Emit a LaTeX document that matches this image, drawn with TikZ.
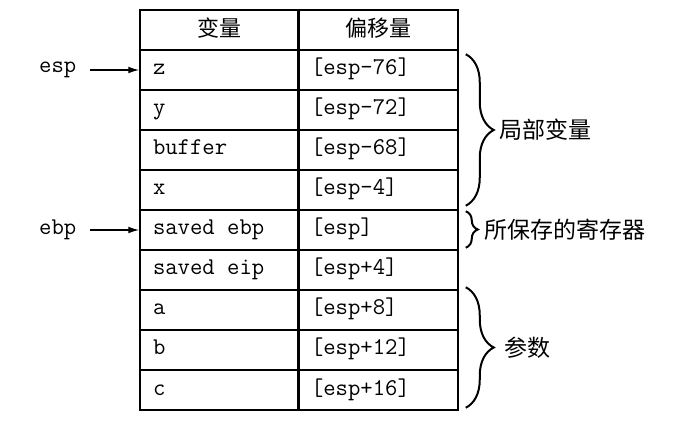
\documentclass[tikz,border=0pt]{standalone}
\usepackage{fontspec}
\newfontfamily\cjk{Noto Sans CJK SC}
\usetikzlibrary{positioning,decorations.pathreplacing,arrows.meta}

\begin{document}
\begin{tikzpicture}[on grid,
   cell/.style={draw, line width=0.75pt, minimum height=20pt, inner xsep=6.5pt,
                text height=7pt, text depth=2pt, align=flush left,
                font=\ttfamily\fontsize{12}{13}\selectfont},
   varcell/.style={cell, text width=66pt},
   offcell/.style={cell, text width=67pt},
   headcell/.style={cell, align=center, text height=8.5pt, text depth=2pt,
                    font=\cjk\fontsize{11}{13}\selectfont},
   reg/.style={font=\ttfamily\fontsize{12}{13}\selectfont},
   pointer/.style={-{Latex[length=5.5pt,width=3.4pt]}, line width=0.7pt, shorten <=3.5pt},
   curly/.style={decorate, decoration={brace, amplitude=#1}, line width=1pt},
   lab/.style={anchor=west, inner sep=0pt, font=\cjk\fontsize{11.5}{13}\selectfont}]
   \useasboundingbox (0,0) rectangle (336.5pt,-210.5pt);

   \node[headcell, text width=66pt] (v0) at (109.5pt,-15pt) {变量};
   \node[headcell, text width=67pt] (o0) [right=79.5pt of v0] {偏移量};

   \foreach \var/\off [count=\i] in {z/{[esp-76]}, y/{[esp-72]}, buffer/{[esp-68]},
         x/{[esp-4]}, saved ebp/{[esp]}, saved eip/{[esp+4]},
         a/{[esp+8]}, b/{[esp+12]}, c/{[esp+16]}} {
      \node[varcell] (v\i) at (109.5pt,-15pt-20pt*\i) {\var};
      \node[offcell] (o\i) [right=79.5pt of v\i] {\off};
   }
   \draw[line width=1.2pt] (v0.north east) -- (v9.south east);

   \node[reg, xshift=-40.75pt] (esp) at (v1.west) {esp};
   \node[reg, xshift=-40.75pt] (ebp) at (v5.west) {ebp};
   \draw[pointer] (esp) -- (v1);
   \draw[pointer] (ebp) -- (v5);

   % braces on the right
   \draw[curly=14pt] ([shift={(3.5pt,-2.5pt)}]o1.north east) -- ([shift={(3.5pt,2.5pt)}]o4.south east)
        node[lab, midway, xshift=16.5pt] (locals) {局部变量};
   \draw[curly=6pt] ([shift={(3.5pt,-1pt)}]o5.north east) -- ([shift={(3.5pt,1.5pt)}]o5.south east)
        node[lab, midway, xshift=9pt] (saved) {所保存的寄存器};
   \draw[curly=14pt] ([shift={(3.5pt,1pt)}]o7.north east) -- ([shift={(3.5pt,1.5pt)}]o9.south east)
        node[lab, midway, xshift=19pt] (params) {参数};
\end{tikzpicture}
\end{document}
